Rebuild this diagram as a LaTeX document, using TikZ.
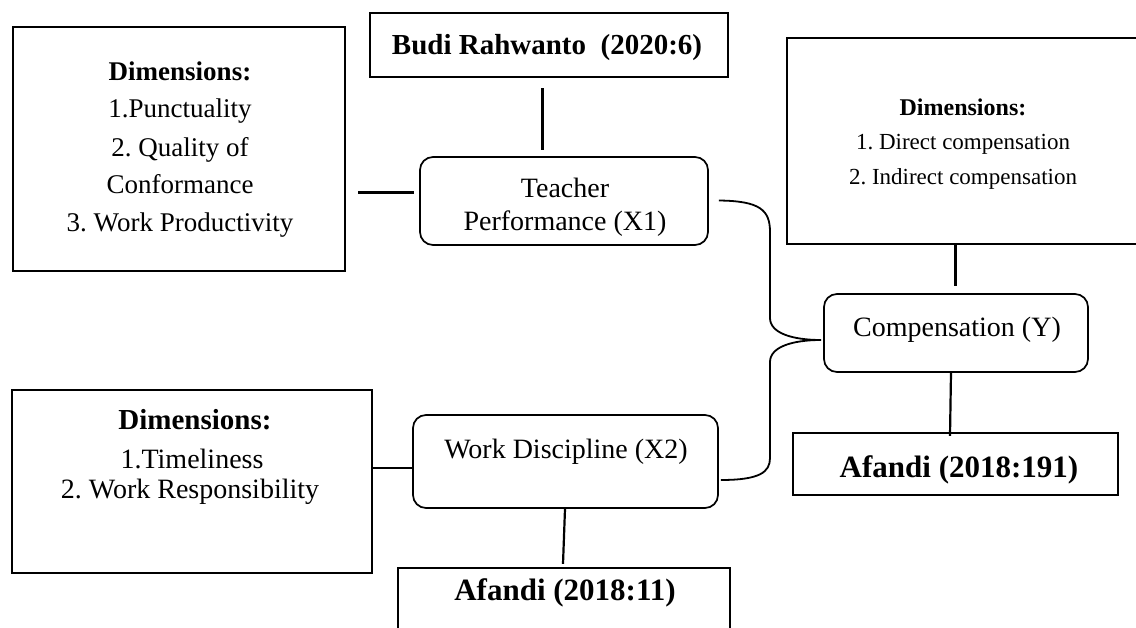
\documentclass[tikz,border=0pt]{standalone}
\usepackage{fontspec}
\setmainfont{Liberation Serif}
\usetikzlibrary{calc}
\frenchspacing
\tikzset{
  sqbox/.style={draw=black, line width=2.3pt, rectangle, inner sep=0pt},
  rbox/.style={draw=black, line width=1.7pt, rectangle, rounded corners=13pt, inner sep=0pt},
  txt/.style={inner sep=0pt, anchor=base, font=\fontsize{28}{34}\selectfont},
  txtb/.style={inner sep=0pt, anchor=base, font=\fontsize{29}{34}\selectfont\bfseries},
  txtl/.style={inner sep=0pt, anchor=base, font=\fontsize{27}{34}\selectfont},
  txtlb/.style={inner sep=0pt, anchor=base, font=\fontsize{27}{34}\selectfont\bfseries},
  txts/.style={inner sep=0pt, anchor=base, font=\fontsize{23}{30}\selectfont},
  txtsb/.style={inner sep=0pt, anchor=base, font=\fontsize{24}{30}\selectfont\bfseries},
  txtab/.style={inner sep=0pt, anchor=base, font=\fontsize{31}{36}\selectfont\bfseries},
  conn/.style={draw=black, line width=3pt},
  conn2/.style={draw=black, line width=2.2pt},
  brace/.style={draw=black, line width=1.8pt},
}
\begin{document}
\begin{tikzpicture}[x=1pt,y=-1pt]
\useasboundingbox (0,0) rectangle (1136,628);
\fill[white] (0,0) rectangle (1136,628);

% boxes
\node[sqbox, minimum width=332pt, minimum height=244pt] (L1) at (179,149) {};
\node[sqbox, minimum width=358pt, minimum height=64pt] (Budi) at (549,45) {};
\node[rbox, minimum width=288pt, minimum height=88pt] (T) at (564,201) {};
\node[sqbox, minimum width=353pt, minimum height=206pt] (R) at (963.5,141) {};
\node[rbox, minimum width=264pt, minimum height=78pt] (C) at (956,333) {};
\node[sqbox, minimum width=325pt, minimum height=62pt] (A191) at (955.5,464) {};
\node[sqbox, minimum width=360pt, minimum height=183pt] (L2) at (192,481.5) {};
\node[rbox, minimum width=305pt, minimum height=93pt] (WD) at (565.5,461.5) {};
\node[sqbox, minimum width=332pt, minimum height=72pt] (A11) at (564,604) {};

% texts
\node[txtlb] (l1a) at (180,81) {Dimensions:};
\node[txtl] (l1b) at (180,118) {1.Punctuality};
\node[txtl] (l1c) at (180,157) {2. Quality of};
\node[txtl] (l1d) at (180,194) {Conformance};
\node[txtl] (l1e) at (180,232) {3. Work Productivity};

\node[txtb] (budit) at (547,55) {Budi Rahwanto\ \ (2020:6)};

\node[txt] (ta) at (565,198) {Teacher};
\node[txt] (tb) at (565,231) {Performance (X1)};

\node[txtsb] (ra) at (963,116) {Dimensions:};
\node[txts] (rb) at (963,150) {1. Direct compensation};
\node[txts] (rc) at (963,185) {2. Indirect compensation};

\node[txt] (ct) at (957,337) {Compensation (Y)};
\node[txtab] (a191t) at (959,477) {Afandi (2018:191)};

\node[txtb] (l2a) at (195,430) {Dimensions:};
\node[txt] (l2b) at (192,468) {1.Timeliness};
\node[txt] (l2c) at (190,498) {2. Work Responsibility};

\node[txt] (wdt) at (566,458) {Work Discipline (X2)};
\node[txtab] (a11t) at (565,600) {Afandi (2018:11)};

% connectors
\draw[conn] ([shift={(12,44)}]L1.east) -- ([shift={(-5,-8)}]T.west);
\draw[conn] ([shift={(-7,10)}]Budi.south) -- ([shift={(-22,-6)}]T.north);
\draw[conn] ([shift={(-8.5,0)}]R.south) -- ([shift={(-1,-7)}]C.north);
\draw[conn2] ([shift={(-5,0)}]C.south) -- ([shift={(-5.5,4)}]A191.north);
\draw[conn2] ([shift={(0,-13.5)}]L2.east) -- ([shift={(0,6.5)}]WD.west);
\draw[conn2] ([shift={(-0.5,0)}]WD.south) -- ([shift={(-1,-3)}]A11.north);

\draw[brace] ([shift={(10,-0.5)}]T.east) .. controls (760,201) and (770,210) .. (770,232)
  -- (770,318) .. controls (770,333) and (792,340) .. ([shift={(-2,7)}]C.west)
  .. controls (792,340) and (770,347) .. (770,362)
  -- (770,458) .. controls (770,472) and (760,480) .. ([shift={(2,18.5)}]WD.east);
\end{tikzpicture}
\end{document}
